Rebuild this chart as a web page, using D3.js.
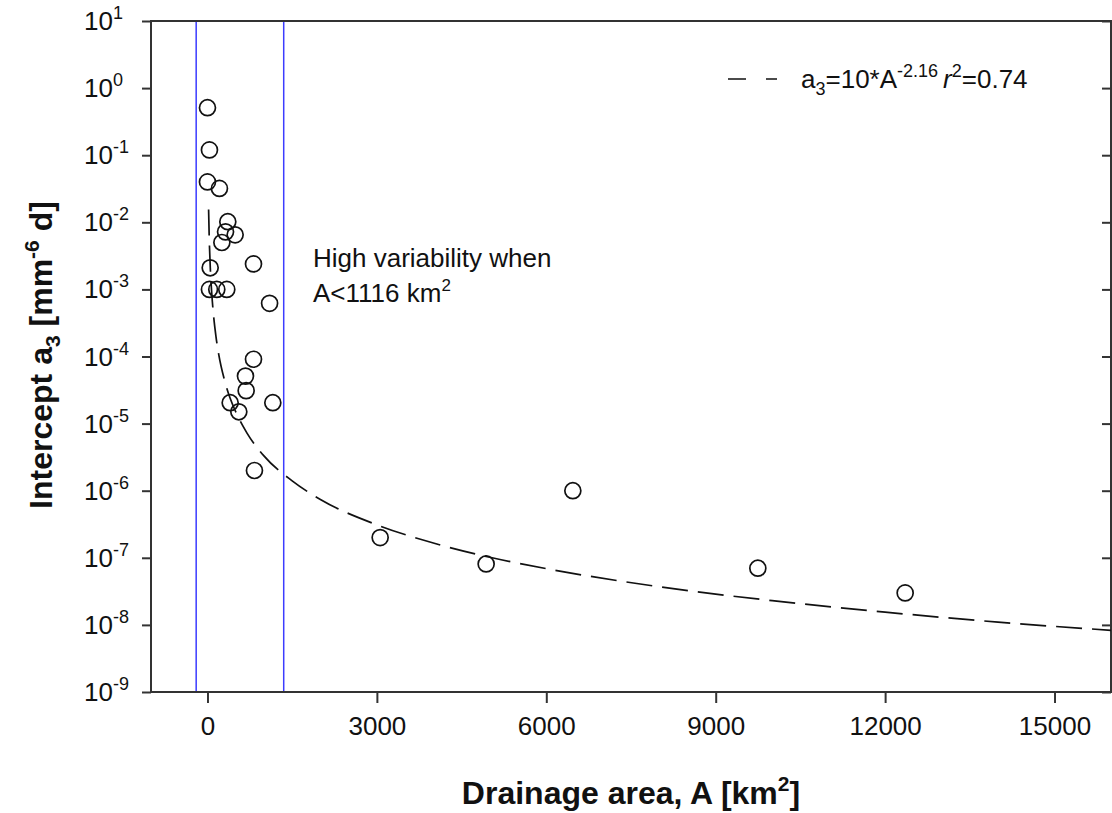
<!DOCTYPE html>
<html>
<head>
<meta charset="utf-8">
<script src="https://cdn.jsdelivr.net/npm/d3@7"></script>
<style>
  body { margin: 0; background: #fff; }
  svg text { font-family: "Liberation Sans", Arial, sans-serif; fill: #111; }
</style>
</head>
<body>
<div id="d3-container"></div>
<script>
const width = 1112,
  height = 813,
  margin = { top: 21, bottom: 121, left: 151, right: 1 };

// observed points: drainage area [km2] and intercept a3
const area = [0, 35, 0, 212, 360, 320, 490, 255, 815, 48, 35, 165, 342, 1100,
  815, 673, 685, 402, 1157, 555, 832, 3058, 4935, 6470, 9746, 12355];
const intercept = [0.51, 0.12, 0.04, 0.032, 0.0102, 0.0072, 0.0065, 0.005, 0.0024, 0.0021,
  0.001, 0.001, 0.001, 6.2e-4, 9.1e-5, 5.1e-5, 3.1e-5, 2.05e-5, 2.05e-5, 1.5e-5,
  2.0e-6, 2.0e-7, 8.1e-8, 1.0e-6, 7.0e-8, 3.0e-8];

// fitted power law
const fitArea = [20, 30, 50, 75, 100, 150, 200, 300, 400, 500, 700, 1000, 1500, 2000,
  3000, 4000, 5000, 6000, 8000, 10000, 12000, 14000, 16000];
const fitIntercept = [1.55e-2, 6.4e-3, 2.1e-3, 8.9e-4, 4.8e-4, 2.0e-4, 1.07e-4, 4.5e-5,
  2.4e-5, 1.5e-5, 7.2e-6, 3.3e-6, 1.4e-6, 7.4e-7, 3.1e-7, 1.66e-7, 1.02e-7, 6.9e-8,
  3.7e-8, 2.3e-8, 1.55e-8, 1.1e-8, 8.3e-9];

const xTicks = [0, 3000, 6000, 9000, 12000, 15000];
const yExponents = [1, 0, -1, -2, -3, -4, -5, -6, -7, -8, -9];
const highlight = [-200, 1350];

const svg = d3.select("#d3-container")
  .append("svg")
  .attr("width", width)
  .attr("height", height);

const x = d3.scaleLinear()
  .domain([-1000, 16000])
  .range([margin.left, width - margin.right]);

const y = d3.scaleLog()
  .domain([1e-9, 10])
  .range([height - margin.bottom, margin.top]);

const axisColor = "#333";

// highlighted range
svg.append("rect")
  .attr("x", x(highlight[0]))
  .attr("y", y(10))
  .attr("width", x(highlight[1]) - x(highlight[0]))
  .attr("height", y(1e-9) - y(10))
  .attr("fill", "none")
  .attr("stroke", "#3c3cff")
  .attr("stroke-width", 1.5);

// frame
svg.append("rect")
  .attr("x", x.range()[0])
  .attr("y", y.range()[1])
  .attr("width", x.range()[1] - x.range()[0])
  .attr("height", y.range()[0] - y.range()[1])
  .attr("fill", "none")
  .attr("stroke", axisColor)
  .attr("stroke-width", 2);

// x axis
const xAxis = svg.append("g")
  .attr("transform", `translate(0,${y.range()[0]})`)
  .call(d3.axisBottom(x).tickValues(xTicks).tickSize(11).tickPadding(14).tickFormat(d3.format("d")));
xAxis.select(".domain").remove();
xAxis.selectAll("line").attr("stroke", axisColor).attr("stroke-width", 2);
xAxis.selectAll("text").attr("font-size", 26).attr("fill", "#111")
  .attr("font-family", "Liberation Sans, Arial, sans-serif");

// y axis, left ticks outside and right ticks inside
const yTickVals = yExponents.map(e => Math.pow(10, e));
const yAxis = svg.append("g")
  .attr("transform", `translate(${x.range()[0]},0)`)
  .call(d3.axisLeft(y).tickValues(yTickVals).tickSize(9).tickFormat(""));
yAxis.select(".domain").remove();
yAxis.selectAll("line").attr("stroke", axisColor).attr("stroke-width", 2);

const yAxisRight = svg.append("g")
  .attr("transform", `translate(${x.range()[1]},0)`)
  .call(d3.axisLeft(y).tickValues(yTickVals).tickSize(-9).tickFormat(""));
yAxisRight.select(".domain").remove();
yAxisRight.selectAll("line").attr("stroke", axisColor).attr("stroke-width", 2)
  .attr("x2", -9);

const yLabels = svg.append("g")
  .selectAll("text")
  .data(yExponents)
  .join("text")
  .attr("x", 84)
  .attr("y", d => y(Math.pow(10, d)) + 9)
  .attr("font-size", 26);
yLabels.append("tspan").text("10");
yLabels.append("tspan")
  .attr("dy", -11)
  .attr("font-size", 18)
  .text(d => d < 0 ? "-" + Math.abs(d) : d);

// fit line
const fitData = fitArea.map((a, i) => [a, fitIntercept[i]]);
svg.append("path")
  .datum(fitData)
  .attr("fill", "none")
  .attr("stroke", "#111")
  .attr("stroke-width", 1.7)
  .attr("stroke-dasharray", "26,10")
  .attr("d", d3.line()
    .x(d => x(d[0]))
    .y(d => y(d[1]))
    .curve(d3.curveMonotoneX));

// points
svg.append("g")
  .selectAll("circle")
  .data(area.map((a, i) => [a, intercept[i]]))
  .join("circle")
  .attr("cx", d => x(d[0]))
  .attr("cy", d => y(d[1]))
  .attr("r", 8)
  .attr("fill", "none")
  .attr("stroke", "#111")
  .attr("stroke-width", 1.7);

// legend
svg.append("line")
  .attr("x1", 728).attr("x2", 777)
  .attr("y1", 79).attr("y2", 79)
  .attr("stroke", "#111")
  .attr("stroke-width", 1.7)
  .attr("stroke-dasharray", "18,20");

const leg = svg.append("text")
  .attr("x", 801)
  .attr("y", 88)
  .attr("font-size", 26);
leg.append("tspan").text("a");
leg.append("tspan").attr("dy", 7).attr("font-size", 18).text("3");
leg.append("tspan").attr("dy", -7).text("=10*A");
leg.append("tspan").attr("dy", -11).attr("font-size", 18).text("-2.16");
leg.append("tspan").attr("dx", 5).attr("font-style", "italic").attr("font-size", 26).attr("dy", 11).text("r");
leg.append("tspan").attr("dy", -11).attr("font-size", 18).text("2");
leg.append("tspan").attr("dy", 11).text("=0.74");

// annotation
const note = svg.append("text")
  .attr("x", 313)
  .attr("y", 267)
  .attr("font-size", 26);
note.append("tspan").text("High variability when");
note.append("tspan").attr("x", 313).attr("dy", 35).text("A<1116 km");
note.append("tspan").attr("dy", -11).attr("font-size", 17).text("2");

// axis titles
const xTitle = svg.append("text")
  .attr("x", 631)
  .attr("y", 804)
  .attr("text-anchor", "middle")
  .attr("font-size", 32)
  .attr("font-weight", "bold");
xTitle.append("tspan").text("Drainage area, A [km");
xTitle.append("tspan").attr("dy", -13).attr("font-size", 21).text("2");
xTitle.append("tspan").attr("dy", 13).text("]");

const yTitle = svg.append("text")
  .attr("transform", "translate(52,355) rotate(-90)")
  .attr("text-anchor", "middle")
  .attr("font-size", 32)
  .attr("font-weight", "bold");
yTitle.append("tspan").text("Intercept a");
yTitle.append("tspan").attr("dy", 8).attr("font-size", 21).text("3");
yTitle.append("tspan").attr("dy", -8).text(" [mm");
yTitle.append("tspan").attr("dy", -13).attr("font-size", 21).text("-6");
yTitle.append("tspan").attr("dy", 13).text(" d]");
</script>
</body>
</html>
